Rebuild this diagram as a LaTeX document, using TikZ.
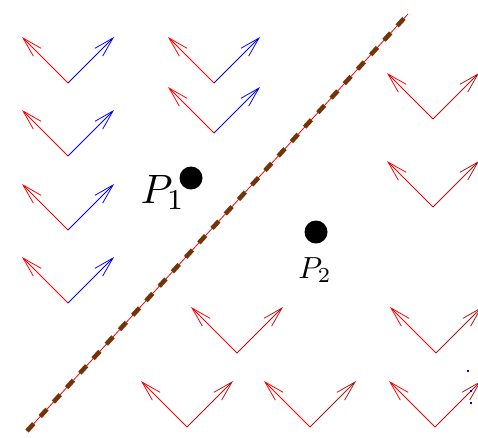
\documentclass[tikz,border=0pt]{standalone}
\usetikzlibrary{arrows.meta,calc}
\definecolor{dashbrown}{RGB}{115,52,8}
\definecolor{darkred}{RGB}{175,20,20}
\tikzset{
  vec/.style={line width=0.8pt,-{Straight Barb[length=20pt,width=11pt,line width=0.8pt]}},
  leftvec/.style={vec,red},
  bluevec/.style={vec,blue},
  dredvec/.style={vec,darkred},
  bigdot/.style={circle,fill=black,inner sep=0pt,minimum size=23pt},
  bluedot/.style={rectangle,fill=blue,inner sep=0pt,minimum size=2.8pt},
  plabel/.style={inner sep=0pt,anchor=base},
}
\newcommand{\myvee}[3]{%
  \coordinate (#1v) at (#2);
  \coordinate (#1l) at ($(#2)+(-46,-46)$);
  \coordinate (#1r) at ($(#2)+(46,-46)$);
  \draw[leftvec] (#1v) -- (#1l);
  \draw[#3] (#1v) -- (#1r);
}
\begin{document}
\begin{tikzpicture}[x=1pt,y=-1pt]
\useasboundingbox (0,0) rectangle (478,437);
% left column (blue)
\myvee{a}{68,83}{bluevec}
\myvee{b}{68,156}{bluevec}
\myvee{c}{68,230}{bluevec}
\myvee{d}{68,303}{bluevec}
% second column (blue)
\myvee{e}{214,83}{bluevec}
\myvee{f}{214,133}{bluevec}
% right side (dark red)
\myvee{g}{433,119}{dredvec}
\myvee{h}{433,207}{dredvec}
\myvee{i}{237,353}{dredvec}
\myvee{j}{436,353}{dredvec}
\myvee{k}{187,427}{dredvec}
\myvee{l}{310,427}{dredvec}
\myvee{m}{435,427}{dredvec}
% dividing line
\coordinate (s) at (27,431);
\coordinate (t) at (408,14);
\draw[red,line width=0.8pt] (s) -- (t);
\draw[dashbrown,line width=4.5pt,dash pattern=on 10pt off 9.6pt] (s) -- (t);
% points
\node[bigdot] (p1) at (191,178) {};
\node[bigdot] (p2) at (316,232) {};
\node[plabel] (l1) at (163,203) {\scalebox{4.1}{$P_1$}};
\node[plabel] (l2) at (315,278) {\scalebox{3.05}{$P_2$}};
% dots
\node[bluedot] (d1) at (468,371) {};
\node[bluedot] (d2) at (471,391) {};
\node[bluedot] (d3) at (471,403) {};
\end{tikzpicture}
\end{document}
